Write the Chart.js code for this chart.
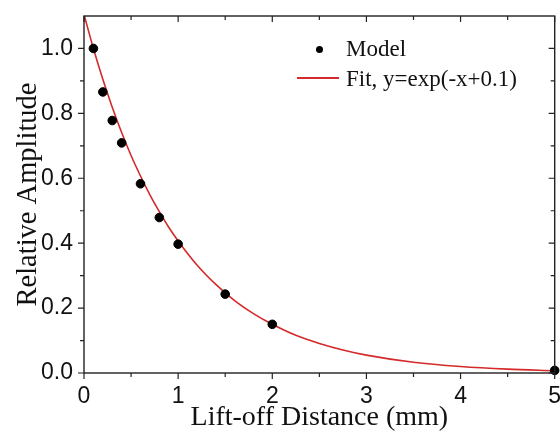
<!DOCTYPE html>
<html>
<head>
<meta charset="utf-8">
<script src="https://cdn.jsdelivr.net/npm/chart.js@4.4.1/dist/chart.umd.min.js"></script>
<style>
  html, body { margin: 0; padding: 0; background: #fff; }
  #wrap { position: relative; width: 560px; height: 432px; }
  #legend { position: absolute; left: 0; top: 0; font-family: "Liberation Serif", "Times New Roman", serif; font-size: 23px; line-height: 23px; color: #111; }
  .lg { position: absolute; white-space: nowrap; }
  .dot { position: absolute; width: 7px; height: 7px; border-radius: 50%; background: #000; }
  .ln { position: absolute; height: 2px; background: #d42a2a; }
</style>
</head>
<body>
<div id="wrap">
  <canvas id="c" width="560" height="432"></canvas>
  <div id="legend">
    <div class="dot" style="left:316px; top:46px;"></div>
    <div class="lg" style="left:346px; top:37px;">Model</div>
    <div class="ln" style="left:297px; top:77px; width:42px;"></div>
    <div class="lg" style="left:346px; top:67px;">Fit, y=exp(-x+0.1)</div>
  </div>
</div>
<script>
// Data
const modelX = [0.1, 0.2, 0.3, 0.4, 0.6, 0.8, 1.0, 1.5, 2.0, 5.0];
const modelY = [1.0, 0.866, 0.778, 0.709, 0.583, 0.479, 0.397, 0.243, 0.150, 0.008];

const fitX = [0, 0.1, 0.2, 0.3, 0.4, 0.5, 0.6, 0.7, 0.8, 0.9, 1.0, 1.2, 1.4, 1.6, 1.8, 2.0, 2.25, 2.5, 2.75, 3.0, 3.5, 4.0, 4.5, 5.0];
const fitY = [1.105, 1.0, 0.905, 0.819, 0.741, 0.670, 0.607, 0.549, 0.497, 0.449, 0.407, 0.333, 0.273, 0.223, 0.183, 0.150, 0.116, 0.091, 0.071, 0.055, 0.033, 0.020, 0.012, 0.007];

const xTicks = [0, 1, 2, 3, 4, 5];
const xMinor = [0.5, 1.5, 2.5, 3.5, 4.5];
const yTicks = [0.0, 0.2, 0.4, 0.6, 0.8, 1.0];
const yMinor = [0.1, 0.3, 0.5, 0.7, 0.9];

const AXIS_COLOR = '#222';

const framePlugin = {
  id: 'frame',
  afterDraw(chart) {
    const {ctx, chartArea: a, scales: {x, y}} = chart;
    ctx.save();
    ctx.strokeStyle = AXIS_COLOR;
    ctx.lineWidth = 1.4;
    ctx.strokeRect(a.left, a.top, a.right - a.left, a.bottom - a.top);
    ctx.lineWidth = 1.2;
    ctx.beginPath();
    const tick = (vals, len) => {
      vals.forEach(v => {
        const px = x.getPixelForValue(v);
        ctx.moveTo(px, a.bottom); ctx.lineTo(px, a.bottom + len);
        ctx.moveTo(px, a.top); ctx.lineTo(px, a.top + len);
      });
    };
    const tickY = (vals, len) => {
      vals.forEach(v => {
        const py = y.getPixelForValue(v);
        ctx.moveTo(a.left, py); ctx.lineTo(a.left - len, py);
        ctx.moveTo(a.right, py); ctx.lineTo(a.right - len, py);
      });
    };
    tick(xTicks, 6); tick(xMinor, 4);
    tickY(yTicks, 6); tickY(yMinor, 4);
    ctx.stroke();
    ctx.restore();
  }
};

new Chart(document.getElementById('c'), {
  type: 'scatter',
  data: {
    datasets: [
      {
        label: 'Model',
        data: modelX.map((v, i) => ({x: v, y: modelY[i]})),
        backgroundColor: '#000',
        borderColor: '#000',
        pointRadius: 4.3,
        pointHoverRadius: 4.3,
        clip: false
      },
      {
        label: 'Fit, y=exp(-x+0.1)',
        type: 'line',
        data: fitX.map((v, i) => ({x: v, y: fitY[i]})),
        borderColor: '#d42a2a',
        borderWidth: 1.6,
        pointRadius: 0,
        fill: false,
        showLine: true,
        cubicInterpolationMode: 'monotone'
      }
    ]
  },
  options: {
    responsive: false,
    animation: false,
    events: [],
    layout: { padding: { left: 0, right: 4, top: 16, bottom: 0 } },
    plugins: { legend: { display: false }, tooltip: { enabled: false } },
    scales: {
      x: {
        type: 'linear',
        min: 0, max: 5,
        grid: { display: false },
        border: { display: false },
        afterBuildTicks: s => { s.ticks = xTicks.map(v => ({value: v})); },
        afterFit: s => { s.height = 59; s.paddingLeft = 0; s.paddingRight = 0; },
        ticks: {
          padding: 2,
          maxRotation: 0,
          color: '#111',
          font: { family: '"Liberation Sans", Arial, sans-serif', size: 23 },
          callback: v => String(v)
        },
        title: {
          display: true,
          text: 'Lift-off Distance (mm)',
          color: '#111',
          padding: { top: 0, bottom: 0 },
          font: { family: '"Liberation Serif", "Times New Roman", serif', size: 28, lineHeight: 1 }
        }
      },
      y: {
        type: 'linear',
        min: 0, max: 1.1,
        grid: { display: false },
        border: { display: false },
        afterBuildTicks: s => { s.ticks = yTicks.map(v => ({value: v})); },
        afterFit: s => { s.width = 84; s.paddingTop = 0; s.paddingBottom = 0; },
        ticks: {
          padding: 3,
          color: '#111',
          font: { family: '"Liberation Sans", Arial, sans-serif', size: 23 },
          callback: v => Number(v).toFixed(1)
        },
        title: {
          display: true,
          text: 'Relative Amplitude',
          color: '#111',
          padding: { top: 14, bottom: 0 },
          font: { family: '"Liberation Serif", "Times New Roman", serif', size: 28.5, lineHeight: 1 }
        }
      }
    }
  },
  plugins: [framePlugin]
});
</script>
</body>
</html>
